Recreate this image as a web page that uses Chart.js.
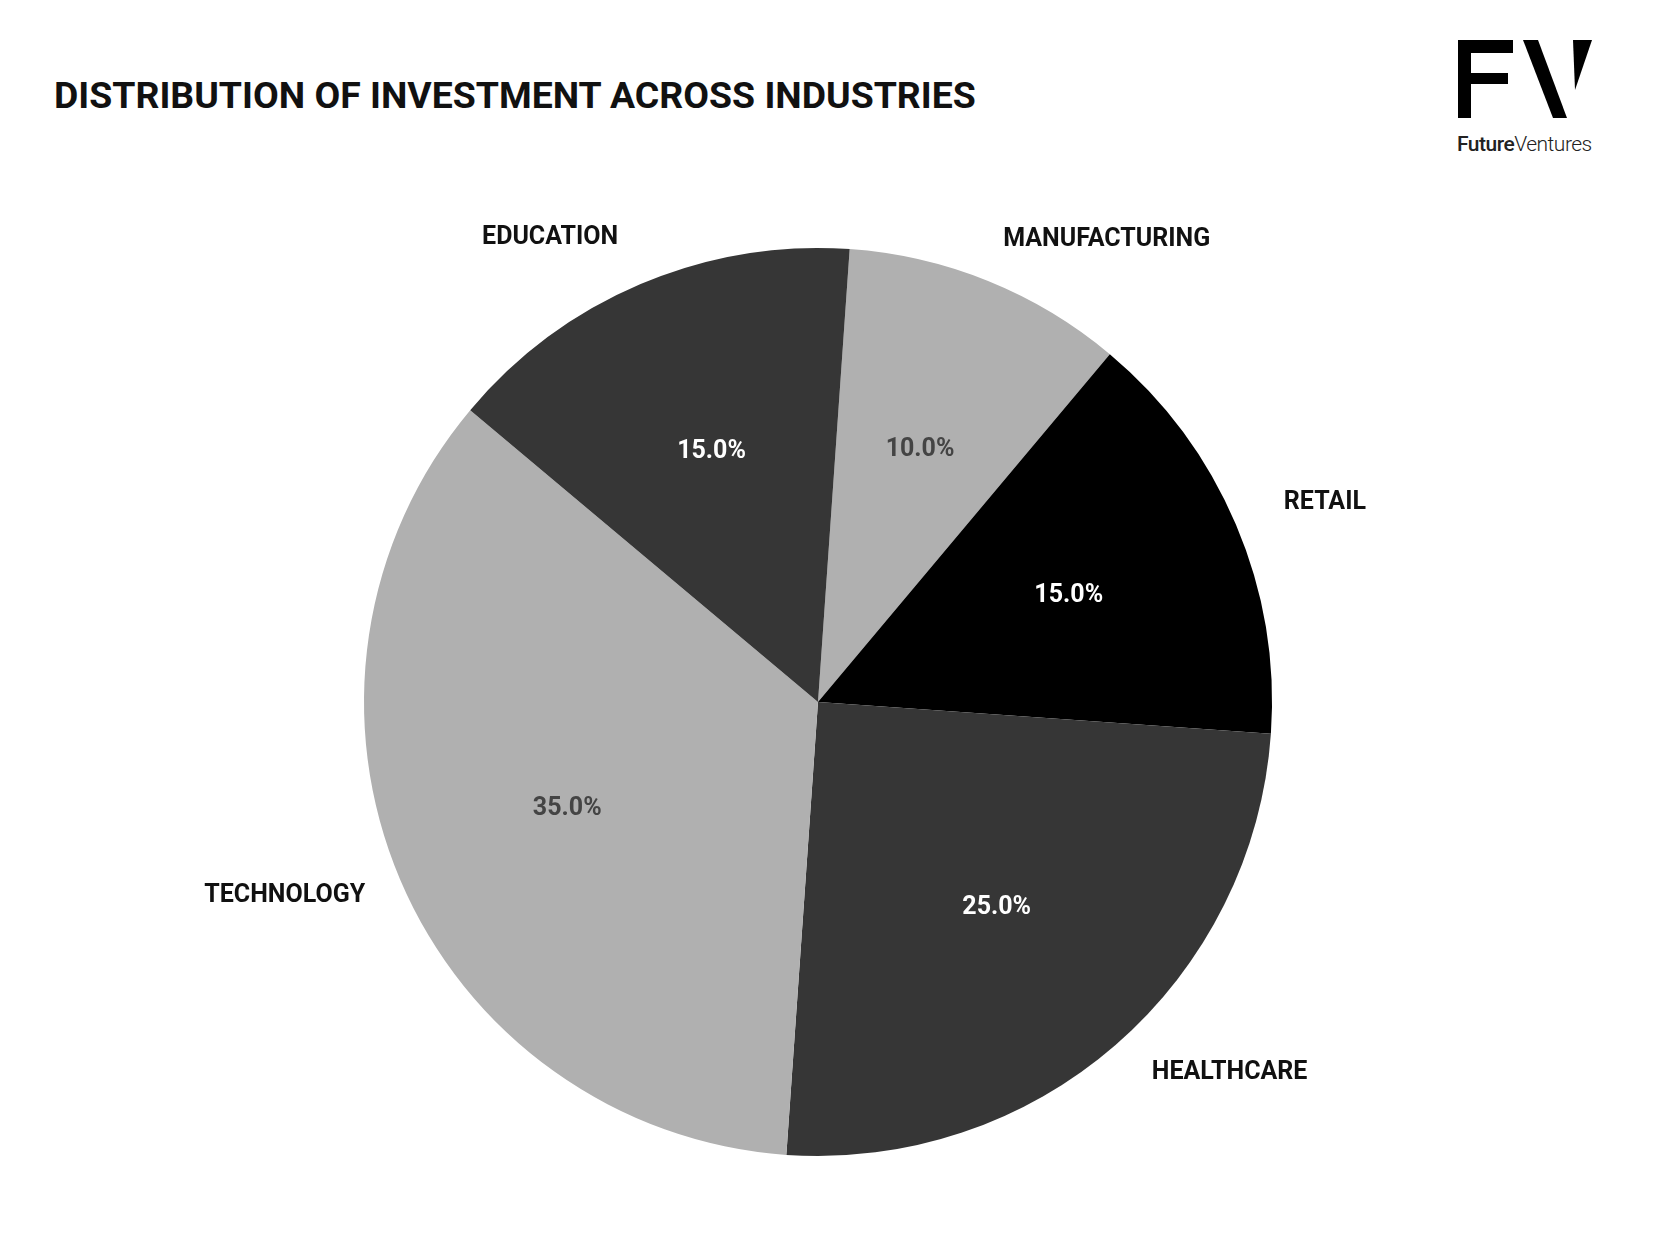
<!DOCTYPE html>
<html>
<head>
<meta charset="utf-8">
<script src="https://cdn.jsdelivr.net/npm/chart.js@4"></script>
<style>
  html, body { margin: 0; padding: 0; background: #fff; }
  body { width: 1668px; height: 1236px; position: relative; overflow: hidden; font-family: Roboto, sans-serif; }
  #title { position: absolute; left: 54px; top: 73px; font-size: 37.4px; font-weight: 700; color: #111; }
  #logo { position: absolute; left: 1456px; top: 38px; }
  #logoText { position: absolute; left: 1457px; top: 132px; font-size: 21px; color: #222; letter-spacing: -0.5px; }
  #logoText b { font-weight: 500; }
  #logoText span { font-weight: 300; }
  #wrap { position: absolute; left: 0; top: 0; width: 1668px; height: 1236px; }
</style>
</head>
<body>
<div id="title">DISTRIBUTION OF INVESTMENT ACROSS INDUSTRIES</div>
<svg id="logo" width="140" height="84" viewBox="0 0 140 84">
  <rect x="2" y="2" width="55" height="13" fill="#000"/>
  <rect x="2" y="35" width="50" height="11" fill="#000"/>
  <rect x="2" y="2" width="13" height="78" fill="#000"/>
  <polygon points="67,2 82,2 111,80 97,80" fill="#000"/>
  <polygon points="117,2 136,2 119,52" fill="#000"/>
</svg>
<div id="logoText"><b>Future</b><span>Ventures</span></div>
<div id="wrap"><canvas id="c" width="1668" height="1236"></canvas></div>
<script>
const categories = ["MANUFACTURING", "RETAIL", "HEALTHCARE", "TECHNOLOGY", "EDUCATION"];
const shares = [10, 15, 25, 35, 15];
const sliceColors = ["#b0b0b0", "#000000", "#363636", "#b0b0b0", "#363636"];
const pctColors = ["#444444", "#ffffff", "#ffffff", "#444444", "#ffffff"];

// outside labels are nudged apart a little, like the original layout
const labelTurn = [10, 1.5, -7, 3, -7];   // degrees
const labelDist = [1.2, 1.2, 1.22, 1.25, 1.18];

const labelPlugin = {
  id: "sliceLabels",
  afterDatasetsDraw(chart) {
    const ctx = chart.ctx;
    const total = shares.reduce((a, b) => a + b, 0);
    chart.getDatasetMeta(0).data.forEach((arc, i) => {
      const mid = (arc.startAngle + arc.endAngle) / 2;
      const r = arc.outerRadius;
      ctx.save();
      ctx.textAlign = "center";
      ctx.textBaseline = "middle";
      ctx.font = "700 25px Roboto";
      ctx.fillStyle = pctColors[i];
      ctx.fillText((shares[i] / total * 100).toFixed(1) + "%", arc.x + Math.cos(mid) * r * 0.6, arc.y + Math.sin(mid) * r * 0.6);
      const a = mid + labelTurn[i] * Math.PI / 180;
      ctx.fillStyle = "#111";
      ctx.fillText(categories[i], arc.x + Math.cos(a) * r * labelDist[i], arc.y + Math.sin(a) * r * labelDist[i]);
      ctx.restore();
    });
  }
};

new Chart(document.getElementById("c"), {
  type: "pie",
  data: {
    labels: categories,
    datasets: [{ data: shares, backgroundColor: sliceColors, borderWidth: 0 }]
  },
  options: {
    responsive: false,
    animation: false,
    rotation: 4,
    layout: { padding: { left: 364, right: 396, top: 248, bottom: 80 } },
    plugins: { legend: { display: false }, tooltip: { enabled: false } }
  },
  plugins: [labelPlugin]
});
</script>
</body>
</html>
